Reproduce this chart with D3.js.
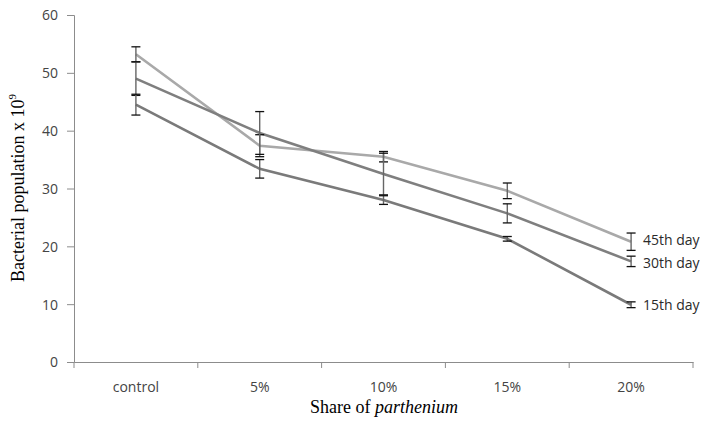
<!DOCTYPE html>
<html><head><meta charset="utf-8">
<script src="https://cdn.jsdelivr.net/npm/d3@7"></script>
<style>body{margin:0;background:#fff}</style>
</head><body><svg id="c" width="703" height="422"></svg>
<script>
const categories = ["control","5%","10%","15%","20%"];
const seriesNames = ["45th day","30th day","15th day"];
const day45 = [53.2, 37.4, 35.5, 29.6, 20.8];
const day30 = [49.0, 39.6, 32.5, 25.7, 17.4];
const day15 = [44.5, 33.4, 28.0, 21.3, 9.9];
const err45 = [1.3, 1.9, 0.9, 1.35, 1.5];
const err30 = [2.9, 3.7, 3.6, 1.65, 0.9];
const err15 = [1.8, 1.6, 0.75, 0.4, 0.5];
const yTicks = [0,10,20,30,40,50,60];
const colors = ["#a9a9a9","#7f7f7f","#7a7a7a"];

const svg = d3.select("#c");
const x = d3.scaleBand().domain(categories).range([74, 693]);
const y = d3.scaleLinear().domain([0,60]).range([362, 15]);

const tickFont = "'Open Sans', Lato, sans-serif";
// y axis
const ya = svg.append("g").attr("transform","translate(74,0)")
  .call(d3.axisLeft(y).tickValues(yTicks).tickSize(7).tickPadding(9));
// x axis
const xa = svg.append("g").attr("transform","translate(0,362)")
  .call(d3.axisBottom(x).tickSize(0).tickPadding(20));
xa.selectAll(".tick line").remove();
const bounds = [74].concat(categories.map(c => x(c) + x.bandwidth()));
xa.selectAll(".bt").data(bounds).enter().append("line")
  .attr("x1", d=>d).attr("x2", d=>d).attr("y1",0).attr("y2",6)
  .attr("stroke","#8c8c8c");
[ya, xa].forEach(a => {
  a.select(".domain").attr("stroke","#8c8c8c");
  a.selectAll(".tick line").attr("stroke","#8c8c8c");
  a.selectAll("text").attr("font-family", tickFont).attr("font-size", 14)
    .attr("fill","#444");
});
ya.selectAll("text").attr("dy","0.35em");

const data = [day45, day30, day15];
const errs = [err45, err30, err15];
const cx = c => x(c) + x.bandwidth()/2;

// lines
const line = d3.line().x((d,i)=>cx(categories[i])).y(d=>y(d));
data.forEach((s,k)=>{
  svg.append("path").datum(s).attr("d", line).attr("fill","none")
    .attr("stroke", colors[k]).attr("stroke-width", 2.6);
});
// error bars
data.forEach((s,k)=>{
  s.forEach((v,i)=>{
    const X = cx(categories[i]), e = errs[k][i];
    svg.append("line").attr("x1",X).attr("x2",X)
      .attr("y1",y(v+e)).attr("y2",y(v-e))
      .attr("stroke","#666").attr("stroke-width",1.4);
    [v+e, v-e].forEach(t=>{
      svg.append("line").attr("x1",X-4.5).attr("x2",X+4.5)
        .attr("y1",y(t)).attr("y2",y(t)).attr("stroke","#111").attr("stroke-width",1.3);
    });
  });
});
// series labels
const labelY = [day45[4]+0.3, day30[4]-0.3, day15[4]];
seriesNames.forEach((n,k)=>{
  svg.append("text").attr("x", 643).attr("y", y(labelY[k])).attr("dy","0.35em")
    .attr("font-family", tickFont).attr("font-size",14)
    .attr("fill","#2a2a2a").text(n);
});
// axis titles
const yt = svg.append("text")
  .attr("transform","translate(24,188) rotate(-90)")
  .attr("text-anchor","middle").attr("font-family","'Liberation Serif', 'Times New Roman', serif")
  .attr("font-size",18).attr("fill","#000");
yt.append("tspan").text("Bacterial population x 10");
yt.append("tspan").attr("font-size",11).attr("dy",-8).text("9");

const xt = svg.append("text").attr("x",384).attr("y",413)
  .attr("text-anchor","middle").attr("font-family","'Liberation Serif', 'Times New Roman', serif")
  .attr("font-size",18).attr("fill","#000");
xt.append("tspan").text("Share of ");
xt.append("tspan").attr("font-style","italic").text("parthenium");
</script></body></html>
